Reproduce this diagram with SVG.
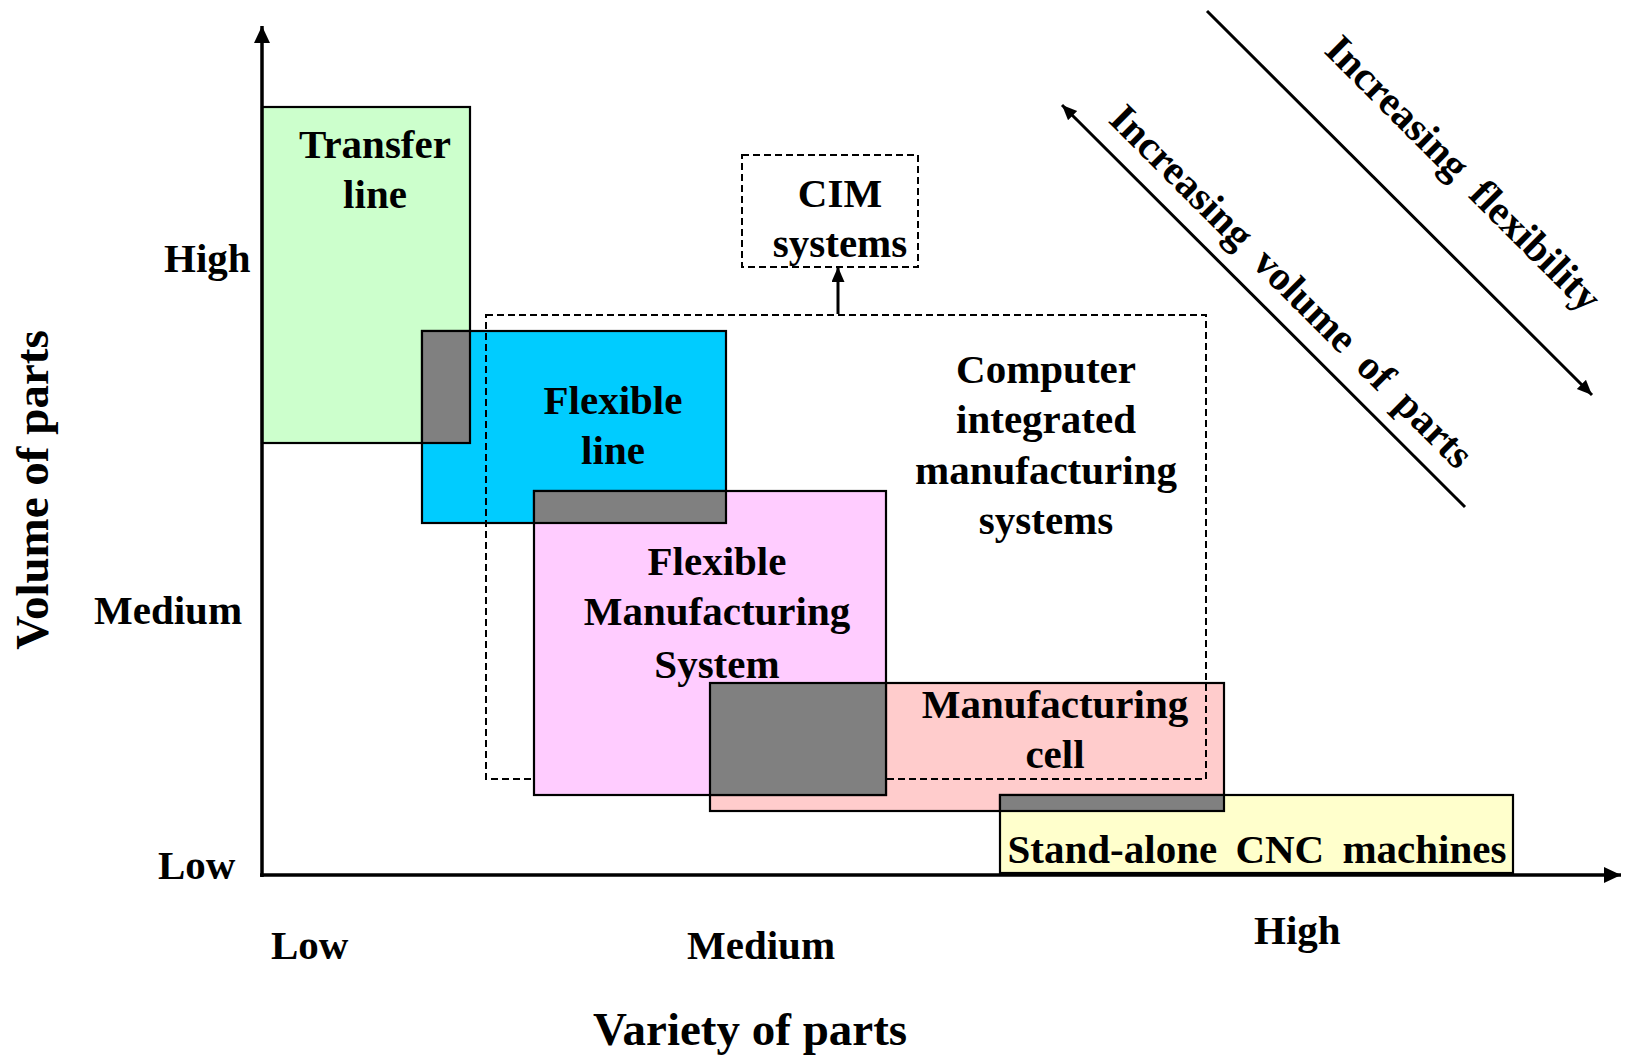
<svg xmlns="http://www.w3.org/2000/svg" width="1626" height="1056" viewBox="0 0 1626 1056">
<style>
text{font-family:"Liberation Serif","Times New Roman",serif;font-weight:bold;fill:#000}
.t{font-size:41px;text-anchor:middle}
.lab{font-size:41px}
.box{stroke:#000;stroke-width:2.2}
.ov{fill:#808080;stroke:#000;stroke-width:2.2}
.dash{fill:none;stroke:#000;stroke-width:2;stroke-dasharray:7 4}
.ax{stroke:#000;stroke-width:3.5;fill:none}
.ar{stroke:#000;stroke-width:3;fill:none}
</style>
<defs>
<marker id="ah" markerUnits="userSpaceOnUse" markerWidth="18" markerHeight="18" viewBox="0 0 18 18" refX="17" refY="8" orient="auto">
<path d="M0,0 L17,8 L0,16 z" fill="#000"/>
</marker>
<marker id="ahs" markerUnits="userSpaceOnUse" markerWidth="16" markerHeight="14" viewBox="0 0 16 14" refX="15" refY="6.5" orient="auto">
<path d="M0,0 L15,6.5 L0,13 z" fill="#000"/>
</marker>
</defs>
<rect width="1626" height="1056" fill="#fff"/>

<g id="transfer-line">
<rect class="box" x="262" y="107" width="208" height="336" fill="#CCFFCC"/>
<text class="t" x="375" y="158">Transfer</text>
<text class="t" x="375" y="208">line</text>
</g>
<g id="flexible-line">
<rect class="box" x="422" y="331" width="304" height="192" fill="#00CCFF"/>
<text class="t" x="613" y="414">Flexible</text>
<text class="t" x="613" y="464">line</text>
</g>
<g id="manufacturing-cell">
<rect class="box" x="710" y="683" width="514" height="128" fill="#FFCCCC"/>
<text class="t" x="1055" y="718">Manufacturing</text>
<text class="t" x="1055" y="768">cell</text>
</g>
<g id="cnc-machines">
<rect class="box" x="1000" y="795" width="513" height="78" fill="#FFFFCC"/>
<text class="t" x="1257" y="863" word-spacing="8">Stand-alone CNC machines</text>
</g>
<g id="cim-region">
<rect class="dash" x="486" y="315" width="720" height="464"/>
<text class="t" x="1046" y="383">Computer</text>
<text class="t" x="1046" y="433">integrated</text>
<text class="t" x="1046" y="484">manufacturing</text>
<text class="t" x="1046" y="534">systems</text>
</g>
<g id="fms">
<rect class="box" x="534" y="491" width="352" height="304" fill="#FFCCFF"/>
<text class="t" x="717" y="575">Flexible</text>
<text class="t" x="717" y="625">Manufacturing</text>
<text class="t" x="717" y="678">System</text>
</g>
<g id="overlaps">
<rect class="ov" x="422" y="331" width="48" height="112"/>
<rect class="ov" x="534" y="491" width="192" height="32"/>
<rect class="ov" x="710" y="683" width="176" height="112"/>
<rect class="ov" x="1000" y="795" width="224" height="16"/>
</g>
<g id="cim-systems">
<rect class="dash" x="742" y="155" width="176" height="112"/>
<text class="t" x="840" y="207">CIM</text>
<text class="t" x="840" y="257">systems</text>
</g>

<g id="connectors">
<line class="ax" x1="262" y1="877" x2="262" y2="26" marker-end="url(#ah)"/>
<line class="ax" x1="260" y1="875" x2="1621" y2="875" marker-end="url(#ah)"/>
<line class="ar" x1="838" y1="314" x2="838" y2="267" marker-end="url(#ahs)"/>
<line class="ar" x1="1207" y1="11" x2="1592" y2="395" marker-end="url(#ahs)"/>
<line class="ar" x1="1465" y1="507" x2="1062" y2="105" marker-end="url(#ahs)"/>
</g>

<g id="axis-labels">
<text class="lab" x="164" y="272">High</text>
<text class="lab" x="94" y="624">Medium</text>
<text class="lab" x="158" y="879">Low</text>
<text class="lab" x="271" y="959">Low</text>
<text class="lab" x="687" y="959">Medium</text>
<text class="lab" x="1254" y="944">High</text>
<text x="750" y="1045" style="font-size:47px;text-anchor:middle">Variety of parts</text>
<text transform="translate(48,490) rotate(-90)" style="font-size:47px;text-anchor:middle">Volume of parts</text>
<text class="t" transform="translate(1454,183) rotate(45)" word-spacing="10">Increasing flexibility</text>
<text class="t" transform="translate(1282,296) rotate(45)" word-spacing="9">Increasing volume of parts</text>
</g>
</svg>
